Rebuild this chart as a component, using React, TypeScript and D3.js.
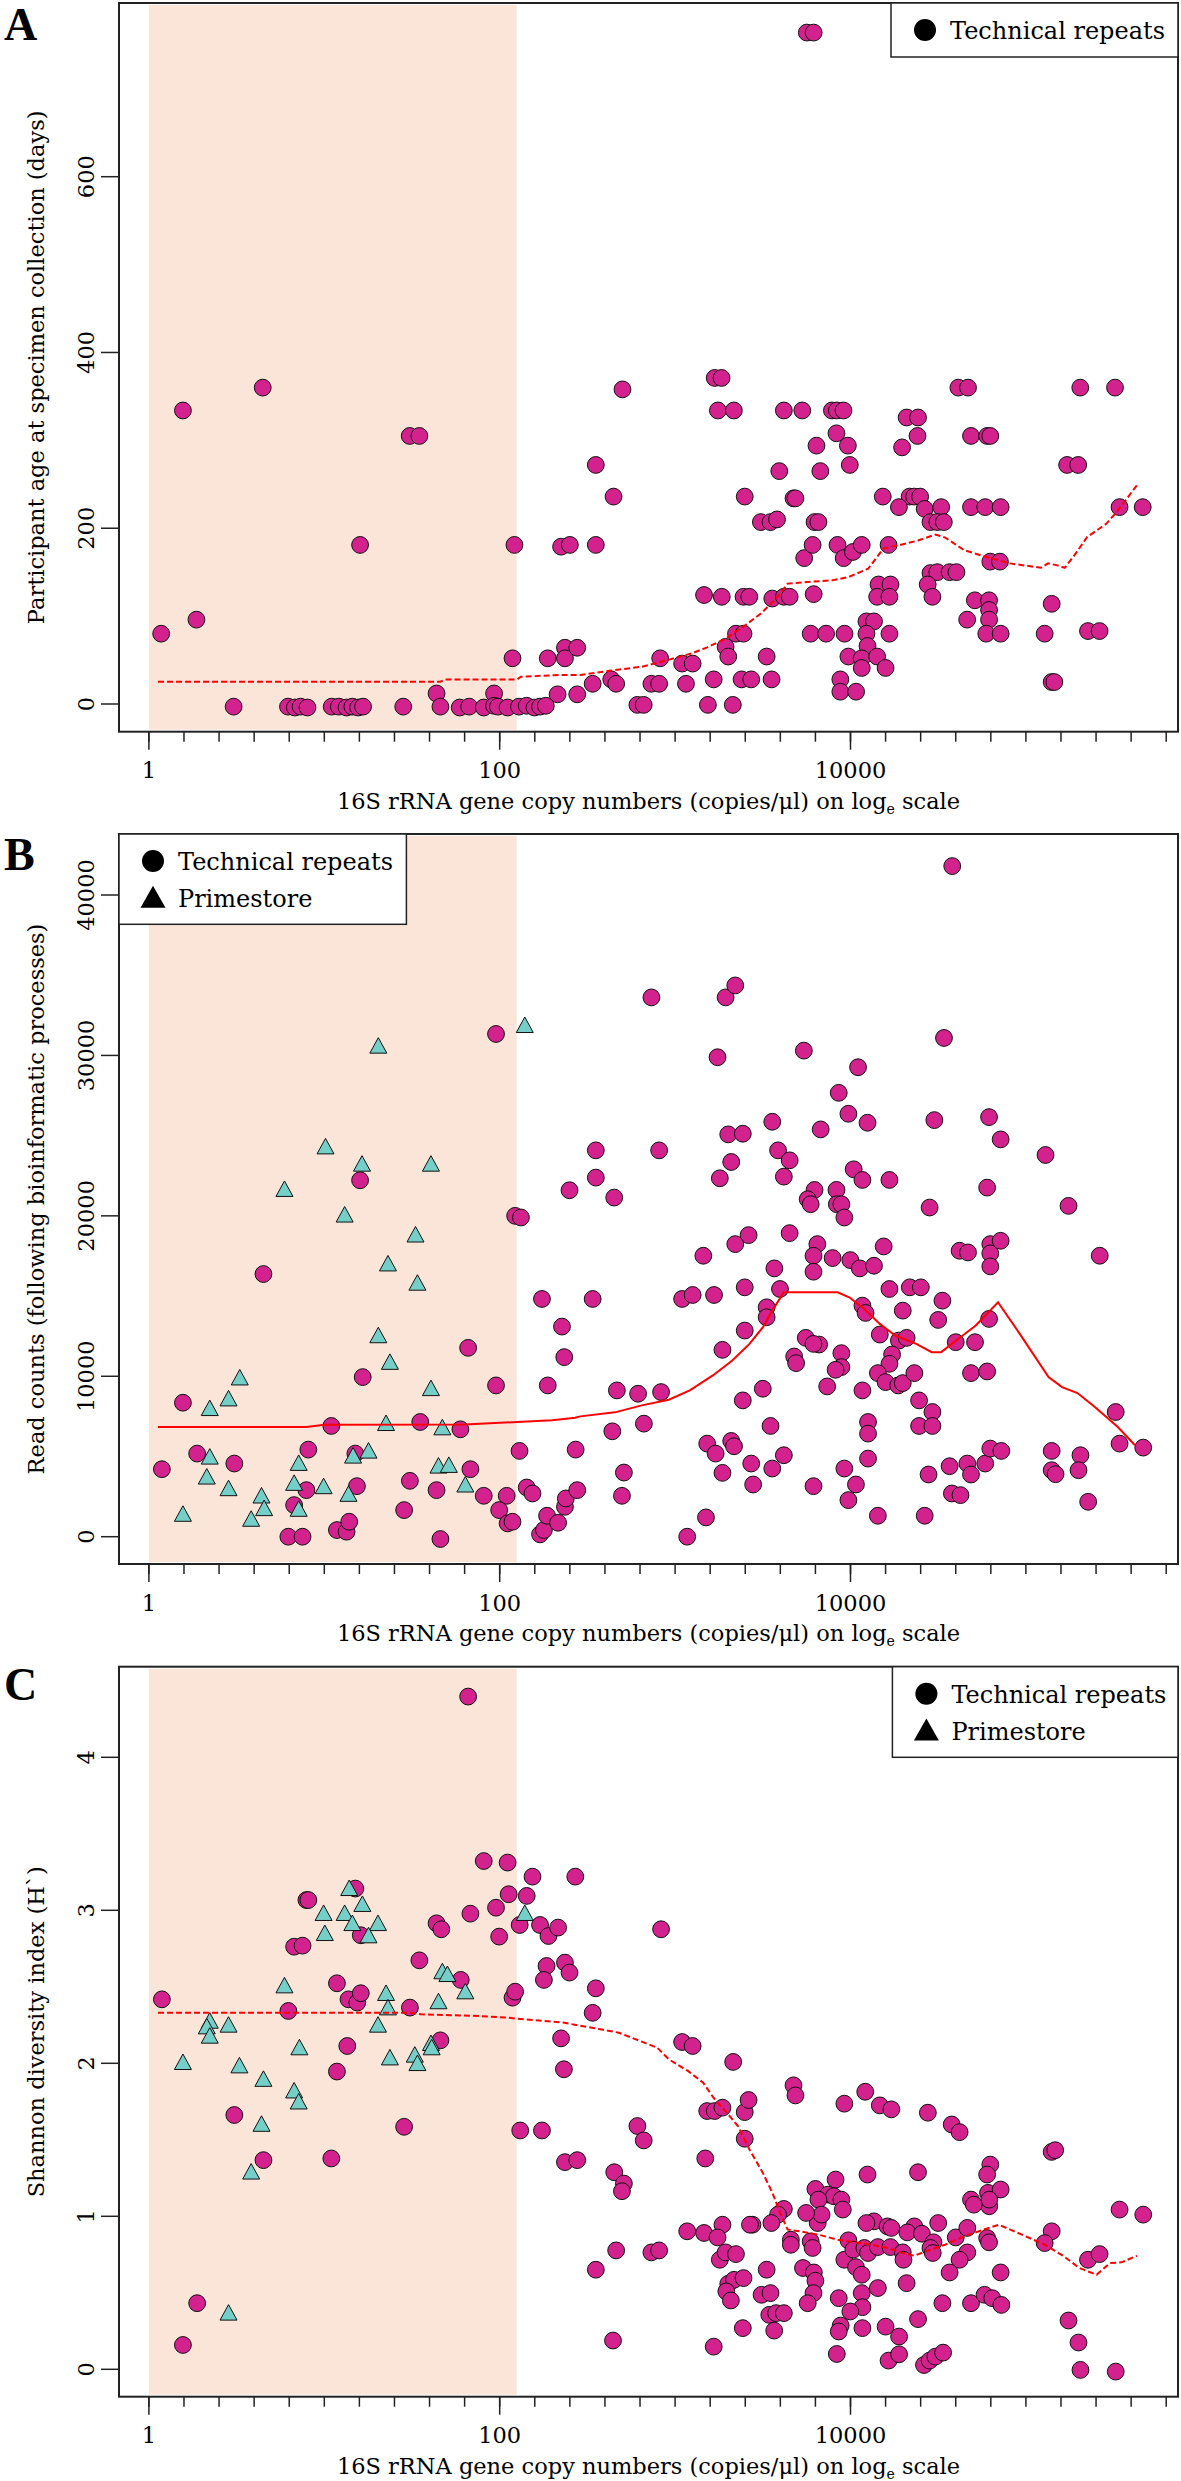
import React from "react";
import * as d3 from "d3";

// x values are log10(16S rRNA copies/µl)
const shadeCopies = [1, 125];
const xTickLabels = [
  { v: 0, label: "1" },
  { v: 2, label: "100" },
  { v: 4, label: "10000" },
];

const ageTechnical: [number, number][] = [
  [3.751, 764], [3.79, 764], [0.194, 334], [0.649, 360], [2.7, 358], [3.226, 371], [3.265, 371],
  [3.244, 334], [3.335, 334], [3.62, 334], [3.725, 334], [3.894, 334], [3.922, 334], [3.96, 334],
  [4.32, 326], [4.385, 326], [4.615, 360], [4.67, 360], [5.31, 360], [5.508, 360],
  [1.487, 305], [1.542, 305], [1.204, 181], [2.084, 181], [2.35, 179], [2.4, 181],
  [0.07, 80], [0.271, 96], [2.073, 52], [2.274, 52], [2.372, 64], [2.372, 52], [2.442, 64],
  [2.33, 11], [2.442, 11], [1.64, 12], [1.968, 12],
  [0.483, -3], [0.793, -3], [0.832, -4], [0.865, -3], [0.904, -4], [1.042, -3], [1.083, -3], [1.127, -4],
  [1.16, -3], [1.193, -4], [1.221, -3], [1.45, -3], [1.662, -3], [1.772, -4], [1.826, -3], [1.909, -4],
  [1.968, -2], [1.99, -3], [2.045, -4], [2.11, -3], [2.154, -2], [2.198, -4], [2.23, -3], [2.263, -2],
  [4.382, 305], [4.294, 292], [4.687, 305], [4.779, 305], [4.797, 305], [3.92, 308], [3.806, 294], [3.985, 294],
  [2.548, 272], [3.594, 265], [3.828, 265], [3.996, 272], [5.235, 272], [5.298, 272],
  [2.649, 236], [3.397, 236], [3.675, 234], [3.686, 234], [4.184, 236], [4.337, 236], [4.363, 236], [4.397, 236],
  [4.276, 224], [4.423, 222], [4.517, 224], [4.687, 224], [4.768, 224], [4.856, 224], [5.534, 224], [5.666, 224],
  [3.489, 207], [3.544, 207], [3.581, 210], [3.795, 207], [3.817, 207], [4.456, 207], [4.495, 207], [4.532, 207],
  [2.548, 181], [3.736, 166], [3.784, 181], [3.926, 181], [3.961, 166], [4.014, 173], [4.064, 181], [4.217, 181],
  [4.797, 162], [4.852, 162], [4.456, 149], [4.495, 150], [4.565, 150], [4.604, 150],
  [4.44, 136], [4.467, 122], [4.16, 136], [4.228, 136], [4.152, 122], [4.222, 122],
  [3.165, 124], [3.266, 122], [3.39, 122], [3.423, 122], [3.554, 120], [3.62, 122], [3.653, 122], [3.79, 125],
  [4.709, 118], [4.79, 118], [4.79, 107], [5.147, 114], [4.665, 96], [4.79, 96],
  [3.347, 80], [3.39, 80], [3.773, 80], [3.861, 80], [3.966, 80], [4.091, 94], [4.134, 94], [4.091, 80], [4.222, 80], [4.097, 66],
  [4.774, 80], [4.856, 80], [5.107, 80], [5.354, 83], [5.42, 83],
  [3.288, 65], [3.303, 54], [3.522, 54], [2.915, 52], [3.04, 46], [3.1, 46], [3.988, 54], [4.064, 52], [4.152, 54], [4.2, 41], [4.064, 41],
  [2.53, 23], [2.636, 28], [2.664, 23], [2.865, 23], [2.909, 23], [3.062, 23], [3.22, 28], [3.379, 28], [3.434, 28], [3.55, 28],
  [3.942, 28], [3.942, 14], [4.032, 14], [5.147, 25], [5.162, 25],
  [2.785, -1], [2.821, -1], [3.187, -1], [3.329, -1],
];

const ageLoess: [number, number][] = [
  [0.052, 25.4], [1.662, 25.4], [1.69, 28], [2.1, 28], [2.12, 31], [2.34, 33], [2.46, 33], [2.636, 38],
  [2.81, 42.4], [2.92, 48], [3.095, 57.6], [3.183, 64.4], [3.29, 74.6], [3.401, 89.8], [3.489, 103],
  [3.577, 120], [3.642, 137], [3.773, 139], [3.905, 141], [3.991, 144.7], [4.101, 154], [4.188, 177],
  [4.276, 180.7], [4.385, 186], [4.484, 192.8], [4.54, 189.4], [4.648, 175], [4.78, 167], [4.91, 160],
  [5.086, 155], [5.126, 160], [5.174, 158], [5.222, 155], [5.283, 171], [5.349, 190], [5.458, 205],
  [5.524, 220], [5.633, 249],
];

const readTechnical: [number, number][] = [
  [1.979, 31337], [1.204, 22218], [2.088, 20000], [2.121, 19900], [2.398, 21596], [2.548, 24083], [2.548, 22383],
  [4.58, 41803], [2.865, 33617], [3.288, 33617], [3.343, 34363], [3.242, 29886], [3.734, 30300], [4.043, 29264], [4.533, 31088],
  [3.933, 27668], [3.988, 26363], [4.097, 25803], [3.554, 25865], [3.83, 25389], [4.478, 25969], [4.79, 26155], [4.856, 24767], [5.112, 23793],
  [3.303, 25078], [3.386, 25119], [2.909, 24083], [3.32, 23358], [3.255, 22342], [3.587, 24083], [3.653, 23461], [3.62, 22445],
  [4.018, 22902], [4.068, 22238], [4.222, 22238], [3.795, 21616], [3.756, 21036], [3.773, 20725], [3.92, 21616], [3.922, 20725], [3.948, 20725],
  [2.653, 21140], [4.779, 21761], [4.451, 20518], [5.243, 20622], [3.965, 19896],
  [3.419, 18798], [3.343, 18238], [3.653, 18922], [3.161, 17513], [3.566, 16725], [3.811, 18238], [3.789, 17513], [3.789, 16518], [3.898, 17368],
  [3.999, 17243], [4.053, 16725], [4.134, 16891], [4.189, 18093], [4.622, 17824], [4.67, 17720], [4.797, 18238], [4.797, 17658], [4.856, 18446], [4.797, 16850], [5.421, 17513],
  [2.53, 14819], [3.04, 14819], [3.1, 15067], [3.222, 15067], [3.397, 15544], [3.598, 15440], [3.522, 14300], [3.522, 13679], [4.222, 15440], [4.338, 15544], [4.401, 15544],
  [4.068, 14404], [4.086, 13948], [4.298, 14093], [4.524, 14715], [4.5, 13513], [4.79, 13575], [3.397, 12850], [3.27, 11648],
  [3.745, 12394], [3.821, 11979], [3.789, 12021], [3.948, 11440], [3.948, 10570], [3.915, 10404], [3.679, 11233], [3.69, 10819],
  [4.167, 12601], [4.276, 12228], [4.32, 12394], [4.237, 11358], [4.222, 10777], [4.156, 10197], [4.2, 9637], [4.272, 9430], [4.298, 9575], [4.364, 10197],
  [4.6, 12124], [4.71, 12124], [4.687, 10197], [4.779, 10300],
  [2.668, 9119], [2.789, 8912], [2.92, 9016], [3.386, 8497], [3.5, 9223], [3.867, 9368], [4.068, 9119], [4.391, 8497], [4.467, 7772], [4.391, 6902], [4.467, 6902],
  [2.822, 7047], [2.642, 6570], [3.544, 6902], [4.1, 7150], [4.1, 6425],
  [3.183, 5803], [3.231, 5181], [3.32, 5969], [3.336, 5637], [3.27, 3979], [3.434, 4560], [3.445, 3254], [3.554, 4249], [3.62, 5078], [3.789, 3150], [3.965, 4249], [4.031, 3254], [4.1, 4870], [3.988, 2280],
  [2.708, 4000], [2.697, 2549], [3.176, 1202], [3.069, 0], [4.156, 1306], [4.423, 1306], [4.445, 3876], [4.565, 4394], [4.578, 2694], [4.627, 2591],
  [4.666, 4560], [4.687, 3876], [4.768, 4560], [4.797, 5492], [4.86, 5347], [5.147, 5347], [5.147, 4145], [5.169, 3896], [5.311, 5078], [5.3, 4145], [5.355, 2176],
  [5.512, 7772], [5.534, 5803], [5.669, 5554],
  [0.653, 16373], [2.241, 14819], [2.355, 13098], [2.368, 11192], [1.82, 11772], [1.979, 9430], [2.274, 9430], [1.219, 9948], [0.194, 8352],
  [1.04, 6902], [1.547, 7150], [1.776, 6694], [0.275, 5181], [0.074, 4207], [0.487, 4560], [0.909, 5430], [0.898, 2902], [0.828, 1969],
  [1.177, 5181], [1.186, 3150], [1.488, 3482], [1.64, 2902], [1.833, 4207], [1.909, 2549], [2.04, 2549], [1.997, 1658], [2.045, 829], [2.073, 933],
  [2.113, 5347], [2.154, 3068], [2.187, 2694], [1.455, 1658], [1.072, 415], [1.127, 311], [1.142, 933], [0.795, 0], [0.876, 0], [1.662, -145],
  [2.23, 145], [2.252, 415], [2.27, 1306], [2.333, 870], [2.372, 1865], [2.377, 2383], [2.442, 2902], [2.433, 5430],
];

const readPrimestore: [number, number][] = [
  [2.143, 31813], [1.308, 30528], [1.007, 24249], [1.215, 23171], [1.608, 23171], [0.773, 21596], [1.116, 20000],
  [1.52, 18756], [1.363, 16953], [1.531, 15751], [1.308, 12477], [1.374, 10819], [0.518, 9845], [0.454, 8539], [0.347, 7938], [1.608, 9181], [1.352, 7005], [1.673, 6736],
  [0.347, 4912], [0.33, 3668], [0.454, 2943], [0.194, 1347], [0.642, 2487], [0.657, 1700], [0.583, 1036], [0.854, 4518], [0.828, 3275], [0.854, 1658], [0.996, 3068],
  [1.164, 4974], [1.138, 2591], [1.252, 5285], [1.651, 4352], [1.71, 4394], [1.804, 3171],
];

const readLoess: [number, number][] = [
  [0.052, 6839], [0.898, 6839], [1.0, 6984], [1.8, 6990], [2.1, 7150], [2.3, 7254], [2.43, 7420], [2.46, 7500], [2.657, 7751],
  [2.81, 8187], [2.964, 8539], [3.084, 9119], [3.215, 10052], [3.326, 10984], [3.424, 12021], [3.501, 13057],
  [3.554, 14093], [3.62, 15233], [3.926, 15233], [3.993, 14922], [4.079, 14197], [4.167, 13264], [4.255, 12539],
  [4.375, 12021], [4.463, 11503], [4.517, 11503], [4.627, 12435], [4.714, 13161], [4.841, 14611], [4.965, 12642],
  [5.129, 9948], [5.206, 9326], [5.294, 8953], [5.393, 8083], [5.524, 6839], [5.622, 5699],
];

const shannonTechnical: [number, number][] = [
  [1.82, 4.397], [1.909, 3.322], [2.045, 3.312], [2.187, 3.22], [2.431, 3.22], [2.051, 3.105], [2.154, 3.094], [1.979, 3.017], [1.833, 2.978], [1.997, 2.828], [2.114, 2.904],
  [2.23, 2.904], [2.278, 2.832], [2.333, 2.887], [0.898, 3.067], [0.909, 3.067], [1.177, 3.142], [0.828, 2.762], [0.876, 2.769], [1.208, 2.837], [1.64, 2.915], [1.667, 2.876],
  [1.542, 2.673], [2.267, 2.636], [2.252, 2.545], [2.372, 2.658], [2.398, 2.593], [1.778, 2.545], [1.072, 2.523], [1.138, 2.418], [1.188, 2.397], [1.208, 2.458],
  [2.073, 2.429], [2.088, 2.468], [2.548, 2.49], [2.53, 2.33], [0.074, 2.418], [0.795, 2.342], [1.488, 2.364], [2.35, 2.163], [1.131, 2.113], [1.662, 2.15], [2.366, 1.961], [1.072, 1.946],
  [0.487, 1.662], [1.455, 1.585], [2.117, 1.561], [2.241, 1.561], [0.653, 1.367], [1.04, 1.378], [2.372, 1.354], [2.442, 1.367], [2.548, 0.651], [0.275, 0.432], [0.194, 0.159],
  [2.92, 2.876], [3.04, 2.139], [3.1, 2.113], [3.331, 2.009],
  [3.675, 1.856], [3.686, 1.79], [4.084, 1.814], [3.965, 1.736], [4.167, 1.725], [4.233, 1.699], [4.441, 1.677], [4.577, 1.6], [4.622, 1.55],
  [3.183, 1.688], [3.226, 1.688], [3.27, 1.71], [3.397, 1.681], [3.419, 1.76], [3.397, 1.507], [2.785, 1.59], [2.821, 1.496],
  [3.172, 1.378], [2.653, 1.288], [2.708, 1.214], [2.697, 1.164], [5.147, 1.421], [5.167, 1.432], [4.097, 1.273], [4.385, 1.288],
  [4.797, 1.338], [4.779, 1.273], [4.784, 1.153], [4.856, 1.175], [4.791, 1.066], [4.791, 1.109], [4.687, 1.109], [4.703, 1.076],
  [3.915, 1.24], [3.8, 1.179], [3.872, 1.142], [3.905, 1.131], [3.948, 1.109], [3.956, 1.044], [3.817, 1.109], [3.813, 0.956], [3.835, 1.011], [3.747, 1.022],
  [5.534, 1.044], [5.669, 1.011], [3.62, 1.048], [3.587, 1.011], [3.549, 0.956], [3.441, 0.945], [3.427, 0.945], [3.069, 0.902], [3.165, 0.891],
  [3.27, 0.945], [3.242, 0.862], [3.66, 0.847], [3.66, 0.814], [3.773, 0.836], [3.784, 0.793],
  [4.134, 0.967], [4.091, 0.956], [4.211, 0.934], [4.233, 0.924], [4.364, 0.934], [4.324, 0.895], [4.407, 0.886], [4.5, 0.956],
  [4.473, 0.83], [4.456, 0.793], [4.469, 0.76], [4.6, 0.862], [4.666, 0.924], [4.779, 0.858], [4.79, 0.83], [5.147, 0.902], [5.107, 0.825],
  [3.988, 0.843], [3.965, 0.716], [4.016, 0.782], [4.079, 0.793], [4.1, 0.76], [4.156, 0.799], [4.228, 0.799], [4.298, 0.764], [4.302, 0.716],
  [4.666, 0.764], [4.622, 0.716], [4.565, 0.633], [4.856, 0.633], [5.354, 0.716], [5.42, 0.753], [2.664, 0.777], [2.865, 0.764], [2.909, 0.777],
  [3.255, 0.716], [3.288, 0.764], [3.347, 0.753], [3.522, 0.651], [3.729, 0.662], [3.791, 0.633], [3.8, 0.579], [4.031, 0.668], [4.064, 0.618],
  [3.303, 0.559], [3.336, 0.585], [3.39, 0.596], [3.292, 0.509], [3.318, 0.45], [3.493, 0.487], [3.544, 0.498], [3.789, 0.498], [3.756, 0.432],
  [3.933, 0.465], [4.064, 0.498], [4.068, 0.406], [3.999, 0.378], [4.156, 0.531], [4.32, 0.563], [4.524, 0.432],
  [4.687, 0.432], [4.764, 0.487], [4.808, 0.465], [4.86, 0.421], [3.537, 0.356], [3.576, 0.367], [3.62, 0.367], [3.565, 0.253],
  [3.386, 0.269], [3.944, 0.286], [3.933, 0.247], [4.068, 0.269], [4.2, 0.279], [4.277, 0.214], [4.385, 0.328], [5.243, 0.319], [5.3, 0.175],
  [2.646, 0.188], [3.22, 0.148], [3.922, 0.1], [4.217, 0.057], [4.277, 0.098], [4.419, 0.028], [4.451, 0.057], [4.484, 0.083], [4.528, 0.109],
  [5.311, -0.004], [5.512, -0.015],
];

const shannonPrimestore: [number, number][] = [
  [1.142, 3.137], [1.217, 3.033], [0.996, 2.974], [1.116, 2.974], [1.16, 2.908], [1.003, 2.843], [1.306, 2.908], [1.252, 2.828], [2.143, 2.974],
  [1.673, 2.593], [1.702, 2.575], [0.773, 2.501], [1.352, 2.451], [1.363, 2.357], [1.651, 2.397], [1.804, 2.462],
  [0.347, 2.27], [0.33, 2.233], [0.347, 2.172], [0.454, 2.244], [1.306, 2.244], [0.858, 2.096], [1.608, 2.124], [1.612, 2.096],
  [0.194, 2.0], [0.516, 1.978], [1.374, 2.03], [1.516, 2.048], [1.531, 1.993], [0.653, 1.89],
  [0.828, 1.814], [0.854, 1.742], [0.642, 1.596], [0.583, 1.284], [0.454, 0.362],
];

const shannonLoess: [number, number][] = [
  [0.052, 2.331], [1.488, 2.331], [1.553, 2.32], [1.881, 2.309], [2.055, 2.298], [2.088, 2.292], [2.361, 2.266],
  [2.575, 2.222], [2.679, 2.2], [2.898, 2.102], [2.964, 2.026], [3.073, 1.95], [3.16, 1.873], [3.226, 1.764],
  [3.303, 1.666], [3.358, 1.59], [3.424, 1.437], [3.5, 1.284], [3.555, 1.153], [3.599, 1.022], [3.642, 0.913],
  [3.708, 0.902], [3.817, 0.88], [3.927, 0.847], [3.993, 0.836], [4.123, 0.814], [4.211, 0.793], [4.298, 0.76],
  [4.364, 0.742], [4.43, 0.771], [4.539, 0.814], [4.648, 0.869], [4.758, 0.913], [4.846, 0.945], [4.977, 0.88],
  [5.108, 0.814], [5.217, 0.738], [5.305, 0.662], [5.403, 0.618], [5.479, 0.694], [5.545, 0.699], [5.633, 0.742],
];

const ageTicks = [0, 200, 400, 600];
const readTicks = [0, 10000, 20000, 30000, 40000];
const shannonTicks = [0, 1, 2, 3, 4];

const FONT = "'DejaVu Serif', serif";
const LETTER_FONT = "'Liberation Serif', 'Times New Roman', serif";
const PINK = "#d3218d";
const TEAL = "#74cfc9";
const SHADE = "#fbe5d9";
const BOX_L = 119;
const BOX_R = 1178;

const xs = d3.scaleLinear().domain([0, 4]).range([148.9, 850.5]);
const minorTicks = d3.range(0, 30).map((i) => i * 0.2);

function tri(cx: number, cy: number, w = 17, h = 15.5) {
  return `M${cx},${cy - h * 0.6}L${cx - w / 2},${cy + h * 0.4}L${cx + w / 2},${cy + h * 0.4}Z`;
}

type PanelProps = {
  letter: string;
  top: number;
  bottom: number;
  yDomain: [number, number];
  yRange: [number, number];
  yTicks: number[];
  yTitle: string;
  circles: [number, number][];
  triangles?: [number, number][];
  loess: [number, number][];
  dashed: boolean;
  legend: { x: number; y: number; w: number; h: number; rows: { sym: "c" | "t"; label: string }[] };
  letterY: number;
};

function Panel(p: PanelProps) {
  const ys = d3.scaleLinear().domain(p.yDomain).range(p.yRange);
  const line = d3
    .line<[number, number]>()
    .x((d) => xs(d[0]))
    .y((d) => ys(d[1]));
  const sx0 = xs(Math.log10(shadeCopies[0]));
  const sx1 = xs(Math.log10(shadeCopies[1]));
  const midY = (p.top + p.bottom) / 2;
  return (
    <g>
      <rect x={sx0} y={p.top + 2} width={sx1 - sx0} height={p.bottom - p.top - 4} fill={SHADE} />
      {p.circles.map((d, i) => (
        <circle key={"c" + i} cx={xs(d[0])} cy={ys(d[1])} r={8.4} fill={PINK} stroke="#111" strokeWidth={1} />
      ))}
      {(p.triangles || []).map((d, i) => (
        <path key={"t" + i} d={tri(xs(d[0]), ys(d[1]))} fill={TEAL} stroke="#111" strokeWidth={1} />
      ))}
      <path
        d={line(p.loess) || ""}
        fill="none"
        stroke="#ff0000"
        strokeWidth={2}
        strokeDasharray={p.dashed ? "6,3" : undefined}
      />
      <rect x={BOX_L} y={p.top} width={BOX_R - BOX_L} height={p.bottom - p.top} fill="none" stroke="#222" strokeWidth={2} />
      {minorTicks.map((t, i) => (
        <line key={"mx" + i} x1={xs(t)} x2={xs(t)} y1={p.bottom} y2={p.bottom + 10} stroke="#222" strokeWidth={1.5} />
      ))}
      {xTickLabels.map((t) => (
        <g key={"xl" + t.v}>
          <line x1={xs(t.v)} x2={xs(t.v)} y1={p.bottom} y2={p.bottom + 18} stroke="#222" strokeWidth={1.5} />
          <text x={xs(t.v)} y={p.bottom + 46.6} textAnchor="middle" fontFamily={FONT} fontSize={22.5}>
            {t.label}
          </text>
        </g>
      ))}
      <text x={(BOX_L + BOX_R) / 2} y={p.bottom + 77} textAnchor="middle" fontFamily={FONT} fontSize={22.5}>
        16S rRNA gene copy numbers (copies/μl) on log
        <tspan fontSize={14} dy={5}>e</tspan>
        <tspan dy={-5}> scale</tspan>
      </text>
      {p.yTicks.map((t) => (
        <g key={"y" + t}>
          <line x1={BOX_L - 18} x2={BOX_L} y1={ys(t)} y2={ys(t)} stroke="#222" strokeWidth={1.5} />
          <text
            transform={`translate(94,${ys(t)}) rotate(-90)`}
            textAnchor="middle"
            fontFamily={FONT}
            fontSize={22.5}
          >
            {t}
          </text>
        </g>
      ))}
      <text transform={`translate(44,${midY}) rotate(-90)`} textAnchor="middle" fontFamily={FONT} fontSize={22.5}>
        {p.yTitle}
      </text>
      <text x={4} y={p.letterY} fontFamily={LETTER_FONT} fontWeight="bold" fontSize={46}>
        {p.letter}
      </text>
      <g>
        <rect x={p.legend.x} y={p.legend.y} width={p.legend.w} height={p.legend.h} fill="#fff" stroke="#222" strokeWidth={1.5} />
        {p.legend.rows.map((r, i) => {
          const cy = p.legend.y + 27 + i * 37;
          const sx = p.legend.x + 34;
          return (
            <g key={"lg" + i}>
              {r.sym === "c" ? (
                <circle cx={sx} cy={cy} r={11} fill="#000" />
              ) : (
                <path d={tri(sx, cy + 1, 25, 22)} fill="#000" />
              )}
              <text x={sx + 25} y={cy + 9} fontFamily={FONT} fontSize={24}>
                {r.label}
              </text>
            </g>
          );
        })}
      </g>
    </g>
  );
}

export default function App() {
  return (
    <svg
      width={1181}
      height={2481}
      viewBox="0 0 1181 2481"
      style={{ position: "absolute", left: 0, top: 0, background: "#fff" }}
    >
      <rect x={0} y={0} width={1181} height={2481} fill="#fff" />
      <Panel
        letter="A"
        top={3}
        bottom={731.7}
        yDomain={[0, 600]}
        yRange={[704, 176.7]}
        yTicks={ageTicks}
        yTitle="Participant age at specimen collection (days)"
        circles={ageTechnical}
        loess={ageLoess}
        dashed={true}
        letterY={40}
        legend={{ x: 891, y: 3, w: BOX_R - 891, h: 54, rows: [{ sym: "c", label: "Technical repeats" }] }}
      />
      <Panel
        letter="B"
        top={834}
        bottom={1564}
        yDomain={[0, 40000]}
        yRange={[1536.7, 895]}
        yTicks={readTicks}
        yTitle="Read counts (following bioinformatic processes)"
        circles={readTechnical}
        triangles={readPrimestore}
        loess={readLoess}
        dashed={false}
        letterY={870}
        legend={{
          x: BOX_L,
          y: 834,
          w: 406.4 - BOX_L,
          h: 90.3,
          rows: [
            { sym: "c", label: "Technical repeats" },
            { sym: "t", label: "Primestore" },
          ],
        }}
      />
      <Panel
        letter="C"
        top={1666.7}
        bottom={2396.7}
        yDomain={[0, 4]}
        yRange={[2369.3, 1757.3]}
        yTicks={shannonTicks}
        yTitle="Shannon diversity index (H`)"
        circles={shannonTechnical}
        triangles={shannonPrimestore}
        loess={shannonLoess}
        dashed={true}
        letterY={1700}
        legend={{
          x: 892.4,
          y: 1666.7,
          w: BOX_R - 892.4,
          h: 90.6,
          rows: [
            { sym: "c", label: "Technical repeats" },
            { sym: "t", label: "Primestore" },
          ],
        }}
      />
    </svg>
  );
}
